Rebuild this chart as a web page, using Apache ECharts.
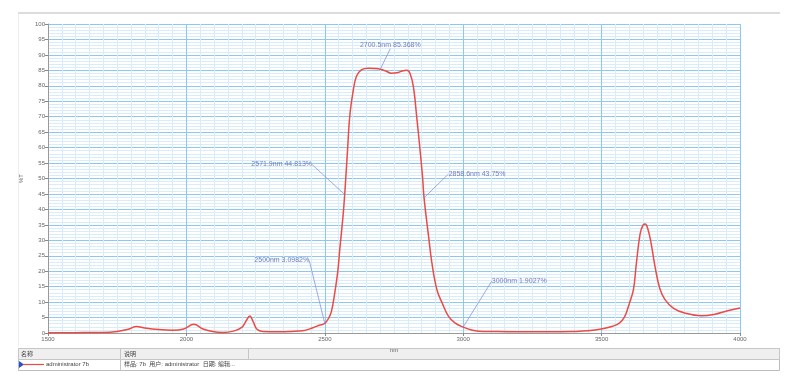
<!DOCTYPE html>
<html>
<head>
<meta charset="utf-8">
<script src="https://cdn.jsdelivr.net/npm/echarts@6/dist/echarts.min.js"></script>
<style>html,body{margin:0;padding:0;background:#fff;}#c{width:800px;height:385px;}</style>
</head>
<body>
<div id="c"></div>
<script>
// ---- data ----
const wavelengths = [1500,1550,1600,1650,1700,1750,1790,1820,1850,1900,1950,1990,2027,2060,2100,2130,2170,2200,2215,2229,2242,2255,2276,2330,2380,2420,2457,2480,2500,2515,2524,2536,2547,2554,2566,2571.9,2582,2590,2602,2614,2633,2657,2680,2700.5,2720,2740,2760,2780,2796,2808,2820,2832,2844,2853,2858.6,2875,2887,2905,2925,2947,2970,3000,3030,3056,3100,3200,3300,3400,3450,3504,3540,3564,3583,3600,3615,3625,3639,3650,3658,3666,3677,3693,3710,3729,3760,3800,3860,3910,3955,4000];
const transmittance = [0.1,0.1,0.1,0.2,0.2,0.5,1.2,2.1,1.6,1.1,0.9,1.3,2.8,1.3,0.4,0.2,0.6,1.8,3.8,5.5,3.5,1.2,0.5,0.4,0.5,0.7,1.7,2.5,3.0982,5,7,13,20,27,38,44.813,59,70,78,83,85.2,85.7,85.6,85.368,84.8,84.1,84.2,84.8,85,84,79.7,70,59.3,50.6,43.75,31.2,22.6,14,9.5,5.4,3.3,1.9027,1.0,0.6,0.5,0.4,0.4,0.5,0.7,1.4,2.2,3.2,5.2,9.5,14,22,32,35,35.3,34,30,21.5,14.5,10.8,8,6.5,5.6,6.1,7.2,8.1];
const annoNm = [2500, 2571.9, 2700.5, 2858.6, 3000];
const annoT = [3.0982, 44.813, 85.368, 43.75, 1.9027];
const annoText = ['2500nm 3.0982%', '2571.9nm 44.813%', '2700.5nm 85.368%', '2858.6nm 43.75%', '3000nm 1.9027%'];
const xName = 'nm';
const yName = '%T';
const legendHeader = ['名称', '说明'];
const legendRow = ['administrator 7b', '样品: 7b  用户: administrator  日期: 编辑...'];

// ---- layout (positions, not data) ----
const annoOffsets = [[-43,-63],[-63,-30],[10,-24],[53,-24],[56,-46]];

const chart = echarts.init(document.getElementById('c'), null, {renderer:'canvas'});
const lineData = wavelengths.map((w,i)=>[w, transmittance[i]]);
const annoData = annoNm.map((w,i)=>[w, annoT[i]]);
const fontFam = 'Arial, "Liberation Sans", "Noto Sans CJK SC", sans-serif';

chart.setOption({
  animation:false,
  backgroundColor:'#fff',
  grid:{left:48,right:60,top:24,bottom:52},
  xAxis:{
    type:'value',min:1500,max:4000,interval:500,
    name:xName,nameLocation:'middle',nameGap:12,
    nameTextStyle:{fontSize:6,color:'#666',fontFamily:fontFam},
    axisLine:{show:true,lineStyle:{color:'#999',width:1}},
    axisTick:{show:true,length:3,lineStyle:{color:'#888'}},
    axisLabel:{fontSize:6,color:'#666',margin:3,fontFamily:fontFam,formatter:v=>String(v)},
    splitLine:{show:true,lineStyle:{color:'#8fc8ee',width:1}},
    minorTick:{show:false,splitNumber:10},
    minorSplitLine:{show:true,lineStyle:{color:'#d8ecf9',width:1}}
  },
  yAxis:{
    type:'value',min:0,max:100,interval:5,
    name:yName,nameLocation:'middle',nameGap:24,nameRotate:90,
    nameTextStyle:{fontSize:6,color:'#666',fontFamily:fontFam},
    axisLine:{show:true,lineStyle:{color:'#999',width:1}},
    axisTick:{show:true,length:3,lineStyle:{color:'#888'}},
    axisLabel:{fontSize:6,color:'#666',margin:3,fontFamily:fontFam,formatter:v=>String(v)},
    splitLine:{show:true,lineStyle:{color:'#8fc8ee',width:1}},
    minorTick:{show:false,splitNumber:5},
    minorSplitLine:{show:true,lineStyle:{color:'#d8ecf9',width:1}}
  },
  series:[
    {
      type:'line',data:lineData,showSymbol:false,smooth:0.4,
      lineStyle:{color:'#ec4a44',width:1.5},z:3
    },
    {
      type:'scatter',data:annoData,symbolSize:1,itemStyle:{color:'#6c7fd8'},z:4,
      label:{show:true,position:'inside',formatter:p=>annoText[p.dataIndex],
        fontSize:7,color:'#4f5cb0',fontFamily:fontFam},
      labelLayout:function(p){const o=annoOffsets[p.dataIndex];return {dx:o[0],dy:o[1]};},
      labelLine:{show:true,length2:0,lineStyle:{color:'#8395de',width:0.8}}
    }
  ],
  graphic:[
    {type:'rect',shape:{x:18,y:12,width:762,height:2},style:{fill:'#dcdcdc'},silent:true},
    {type:'line',shape:{x1:18.5,y1:14,x2:18.5,y2:346},style:{stroke:'#eeeeee',lineWidth:1},silent:true},
    // legend table
    {type:'rect',shape:{x:18.5,y:348.5,width:761,height:22},style:{fill:'#fff',stroke:'#bdbdbd',lineWidth:1},silent:true},
    {type:'rect',shape:{x:18.5,y:348.5,width:761,height:11},style:{fill:'#efefef',stroke:'#c6c6c6',lineWidth:1},silent:true},
    {type:'line',shape:{x1:120.5,y1:348.5,x2:120.5,y2:370.5},style:{stroke:'#c6c6c6',lineWidth:1},silent:true},
    {type:'line',shape:{x1:248.5,y1:348.5,x2:248.5,y2:359.5},style:{stroke:'#c6c6c6',lineWidth:1},silent:true},
    {type:'text',x:21,y:351,style:{text:legendHeader[0],fontSize:6,fill:'#444',fontFamily:fontFam},silent:true},
    {type:'text',x:124,y:351,style:{text:legendHeader[1],fontSize:6,fill:'#444',fontFamily:fontFam},silent:true},
    {type:'polygon',shape:{points:[[19,361],[19,368],[24,364.5]]},style:{fill:'#2a4fd0'},silent:true},
    {type:'line',shape:{x1:23,y1:364.5,x2:44,y2:364.5},style:{stroke:'#ec4a44',lineWidth:1.2},silent:true},
    {type:'text',x:46,y:361.5,style:{text:legendRow[0],fontSize:6,fill:'#444',fontFamily:fontFam},silent:true},
    {type:'text',x:124,y:361.5,style:{text:legendRow[1],fontSize:6,fill:'#444',fontFamily:fontFam},silent:true}
  ]
});
</script>
</body>
</html>
